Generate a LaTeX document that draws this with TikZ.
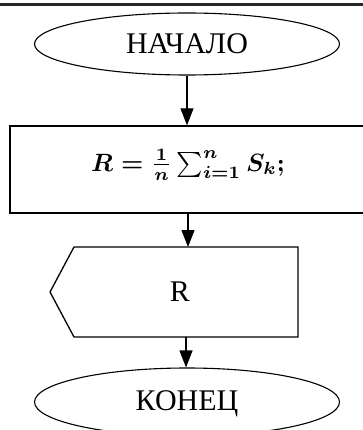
\documentclass[tikz,border=0pt]{standalone}
\usepackage{graphicx}
\usepackage{fontspec}
\setmainfont{Liberation Serif}
\usetikzlibrary{shapes.geometric,arrows.meta}
\tikzset{
  term/.style={ellipse, draw, line width=1.1pt, inner sep=0pt, minimum width=305pt, minimum height=62pt, font=\fontsize{30}{34}\selectfont},
  procbox/.style={rectangle, draw, line width=1.3pt, inner sep=0pt, minimum width=356pt, minimum height=87pt},
  dispshape/.style={line width=1.3pt},
  flow/.style={line width=1.2pt, -{Triangle[length=17pt,width=13pt]}},
  lbl/.style={font=\fontsize{30}{34}\selectfont, inner sep=0pt}
}
\begin{document}
\begin{tikzpicture}[x=1pt,y=1pt]
\useasboundingbox (0,0) rectangle (363,-430);
\clip (0,0) rectangle (363,-430);
% top rule
\draw[line width=2.3pt, black!85] (0,-4.5) -- (363,-4.5);
% start
\node[term] (start) at (187,-44) {НАЧАЛО};
% process
\node[procbox] (proc) at (188,-169.5) {};
\node[inner sep=0pt] (formula) at (188,-165) {\scalebox{2.5}{\mathversion{bold}$\textstyle R=\frac{1}{n}\sum_{i=1}^{n}S_k;$}};
% display
\coordinate (dtl) at (74,-247);
\coordinate (dtr) at (298,-247);
\coordinate (dbr) at (298,-337);
\coordinate (dbl) at (74,-337);
\coordinate (dpt) at (50,-292);
\coordinate (dtop) at (187,-247);
\coordinate (dbot) at (186,-337);
\draw[dispshape] (dpt) -- (dtl) -- (dtr) -- (dbr) -- (dbl) -- cycle;
\node[lbl] (outR) at (180,-292) {R};
% end
\node[term, minimum height=68pt] (stop) at (187,-402) {};
\node[lbl] (stoplbl) at (187,-404) {КОНЕЦ};
% connectors
\draw[flow] (start.south) -- (start.south |- proc.north);
\draw[flow] (proc.south) -- (proc.south |- dtop);
\draw[flow] (dbot) -- (dbot |- stop.north);
\end{tikzpicture}
\end{document}
